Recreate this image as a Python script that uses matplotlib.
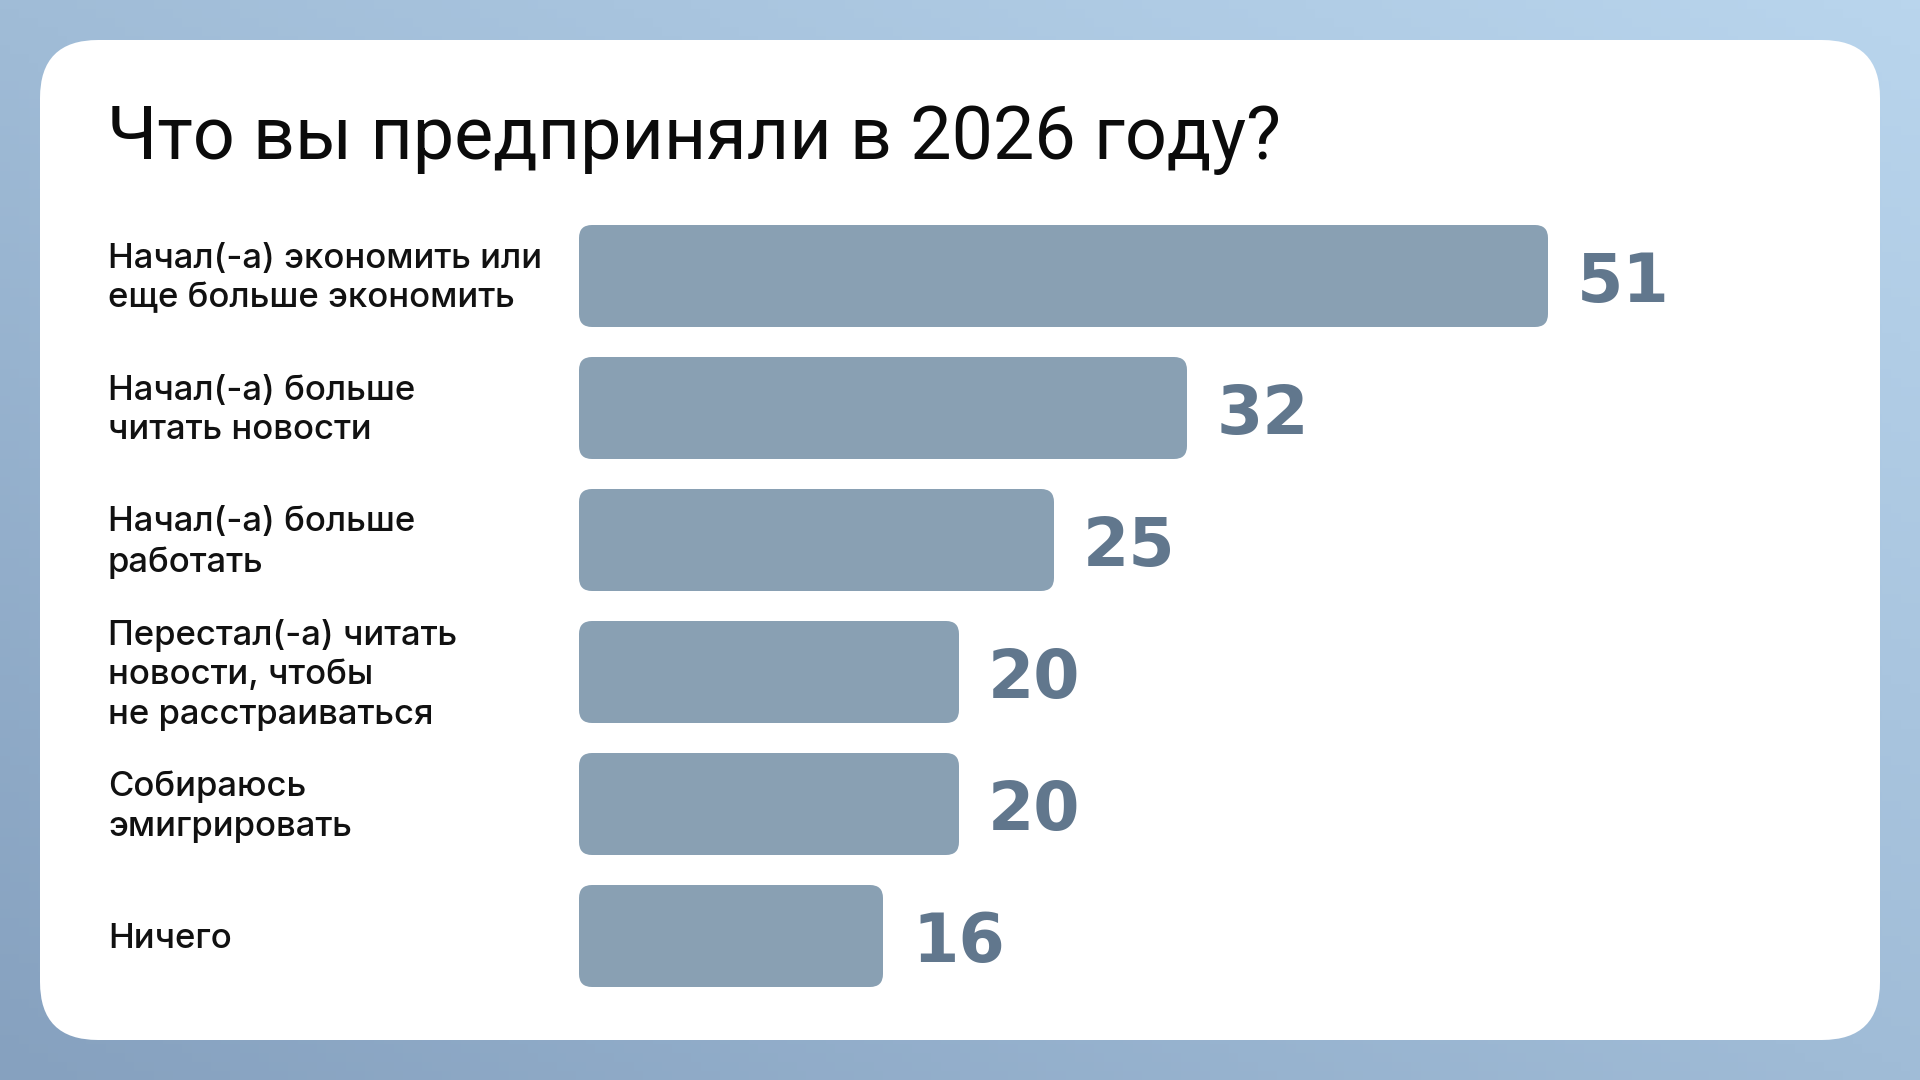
import numpy as np
import matplotlib
matplotlib.use('Agg')
import matplotlib.pyplot as plt
from matplotlib.patches import FancyBboxPatch
from matplotlib.colors import LinearSegmentedColormap
import matplotlib.transforms as mtransforms

# данные
title = 'Что вы предприняли в 2026 году?'
categories = [
    'Начал(-а) экономить или\nеще больше экономить',
    'Начал(-а) больше\nчитать новости',
    'Начал(-а) больше\nработать',
    'Перестал(-а) читать\nновости, чтобы\nне расстраиваться',
    'Собираюсь\nэмигрировать',
    'Ничего',
]
values = [51, 32, 25, 20, 20, 16]

W, H = 1920, 1080
bar_color = '#89a0b3'
value_color = '#61778d'

fig = plt.figure(figsize=(W / 100, H / 100), dpi=100)

# фон с градиентом и белая карточка
bg = fig.add_axes([0, 0, 1, 1])
bg.set_xlim(0, W)
bg.set_ylim(H, 0)
bg.axis('off')
gx, gy = np.meshgrid(np.linspace(0, 1, 200), np.linspace(0, 1, 120))
grad = (gx + (1 - gy)) / 2
cmap = LinearSegmentedColormap.from_list('bg', ['#86a1bf', '#a0bcd7', '#b9d5ed'])
bg.imshow(grad, cmap=cmap, extent=[0, W, H, 0], aspect='auto', origin='upper', zorder=0)
card = FancyBboxPatch((40, 40), 1840, 1000, boxstyle='round,pad=0,rounding_size=58',
                      facecolor='white', edgecolor='none', zorder=1)
bg.add_patch(card)

bg.text(107, 159, title, fontsize=53, family='Roboto', color='#0b0b0b',
        va='baseline', ha='left', zorder=2)

# оси для полос
px_per_unit = 19.0
x0 = 579
xmax = 70
pitch = 132
top = 276 - pitch / 2
n = len(values)
ax = fig.add_axes([x0 / W, 1 - (top + n * pitch) / H, xmax * px_per_unit / W, n * pitch / H])
ax.set_xlim(0, xmax)
ax.set_ylim(n - 0.5, -0.5)
ax.axis('off')

ypos = np.arange(n)
bar_h = 102 / pitch
bars = ax.barh(ypos, values, height=bar_h, color='none')
radius_px = 13
sx = px_per_unit
sy = pitch
for b in bars:
    x, y = b.get_x(), b.get_y()
    w, h = b.get_width(), b.get_height()
    p = FancyBboxPatch((x, y), w, h,
                       boxstyle=f'round,pad=0,rounding_size={radius_px / sx}',
                       mutation_aspect=sx / sy,
                       facecolor=bar_color, edgecolor='none', zorder=2)
    ax.add_patch(p)
    b.remove()

for i, v in enumerate(values):
    ax.annotate(str(v), (v, i), xytext=(21, 0), textcoords='offset points',
                ha='left', va='center_baseline', fontsize=48, fontweight='bold',
                family='DejaVu Sans', color=value_color)

trans = mtransforms.blended_transform_factory(fig.transFigure, ax.transData)
for i, lab in enumerate(categories):
    ax.text(108 / W, i + 0.02, lab, transform=trans, ha='left', va='center',
            fontsize=25, fontweight='medium', family='Inter', color='#111111',
            linespacing=1.3, multialignment='left')

fig.savefig('out.png', dpi=100)
